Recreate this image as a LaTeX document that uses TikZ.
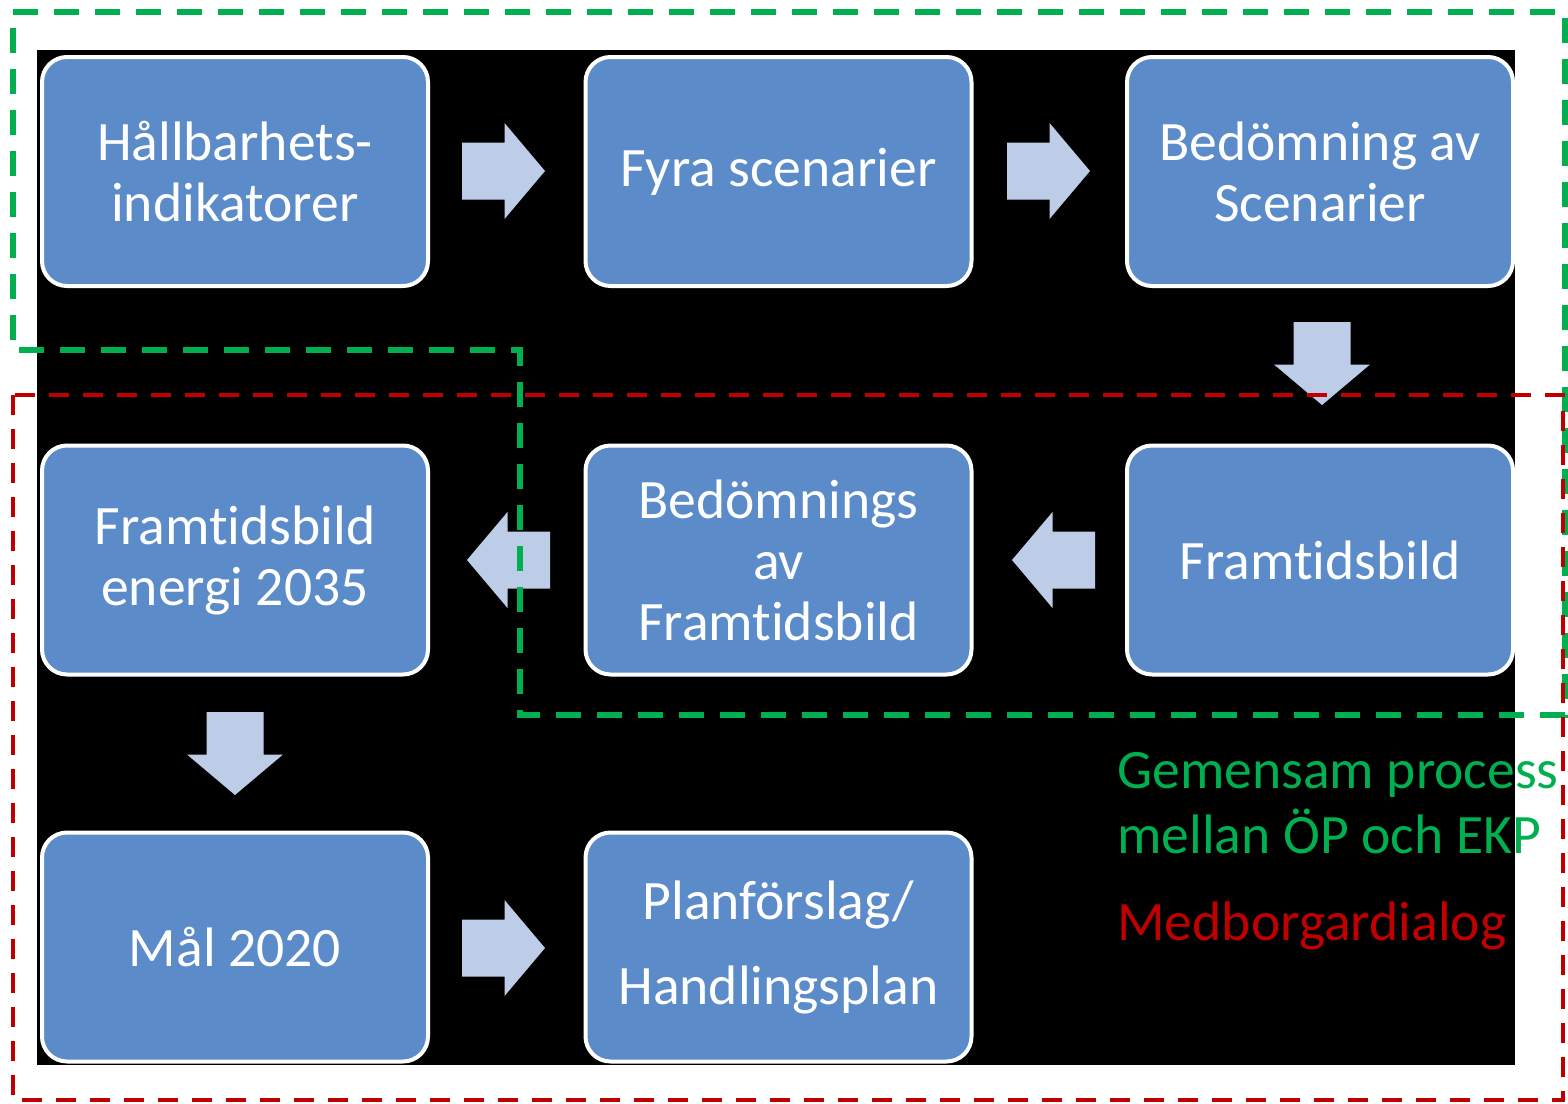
\documentclass[tikz,border=0pt]{standalone}
\usepackage{fontspec}
\setmainfont{Carlito}[RawFeature={-liga;-clig;-calt;-dlig}]
\definecolor{boxblue}{RGB}{91,140,201}
\definecolor{arrowblue}{RGB}{189,205,232}
\definecolor{dgreen}{RGB}{0,176,80}
\definecolor{dred}{RGB}{192,0,0}
\begin{document}
\begin{tikzpicture}[x=0.5pt,y=-0.5pt,
  stepbox/.style={draw=white,line width=2pt,fill=boxblue,rounded corners=12.5pt,
    minimum width=193pt,minimum height=114.5pt,align=center,text=white,
    font=\fontsize{27.8}{30.5}\selectfont,inner sep=2pt},
  blockarrow/.pic={\fill[arrowblue] (-41.5,-28.5) -- (1,-28.5) -- (1,-48) -- (41.5,0) -- (1,48) -- (1,28.5) -- (-41.5,28.5) -- cycle;},
  greendash/.style={draw=dgreen,line width=3.2pt,dash pattern=on 12.5pt off 8pt},
  reddash/.style={draw=dred,line width=2.4pt,dash pattern=on 10pt off 7pt},
  legend/.style={anchor=base west,inner sep=0pt,font=\fontsize{27.8}{32.5}\selectfont}]
\useasboundingbox (0,0) rectangle (1568,1103);
\fill[white] (0,0) rectangle (1568,1103);
\fill[black] (37,50) rectangle (1515,1065);
% block arrows
\pic at (503.5,171) {blockarrow};
\pic at (1048.5,171) {blockarrow};
\pic[rotate=-90] at (1322,363.5) {blockarrow};
\pic[rotate=180] at (1053.5,560) {blockarrow};
\pic[rotate=180] at (508.5,560) {blockarrow};
\pic[rotate=-90] at (235,753.5) {blockarrow};
\pic at (503.5,948) {blockarrow};
% boxes
\node[stepbox] (b1) at (235,171.5) {Hållbarhets-\\indikatorer};
\node[stepbox] (b2) at (778.5,171.5) {Fyra scenarier};
\node[stepbox] (b3) at (1320,171.5) {Bedömning av\\Scenarier};
\node[stepbox] (b4) at (1320,560) {Framtidsbild};
\node[stepbox] (b5) at (778.5,560) {Bedömnings\\av\\Framtidsbild};
\node[stepbox] (b6) at (235,560) {Framtidsbild\\energi 2035};
\node[stepbox] (b7) at (235,947) {Mål 2020};
\node[stepbox,font=\fontsize{27.8}{42.5}\selectfont] (b8) at (778.5,947) {Planförslag/\\Handlingsplan};
% dashed regions
\draw[greendash] (13,12) -- (1565,12) -- (1565,715) -- (520,715) -- (520,350) -- (13,350) -- cycle;
\draw[reddash] (13,395) rectangle (1563,1100);
% legend
\node[legend,text=dgreen] (lg1) at (1117,788) {Gemensam process};
\node[legend,text=dgreen] (lg2) at (1117,853) {mellan ÖP och EKP};
\node[legend,text=dred] (lg3) at (1117,940) {Medborgardialog};
\end{tikzpicture}
\end{document}
